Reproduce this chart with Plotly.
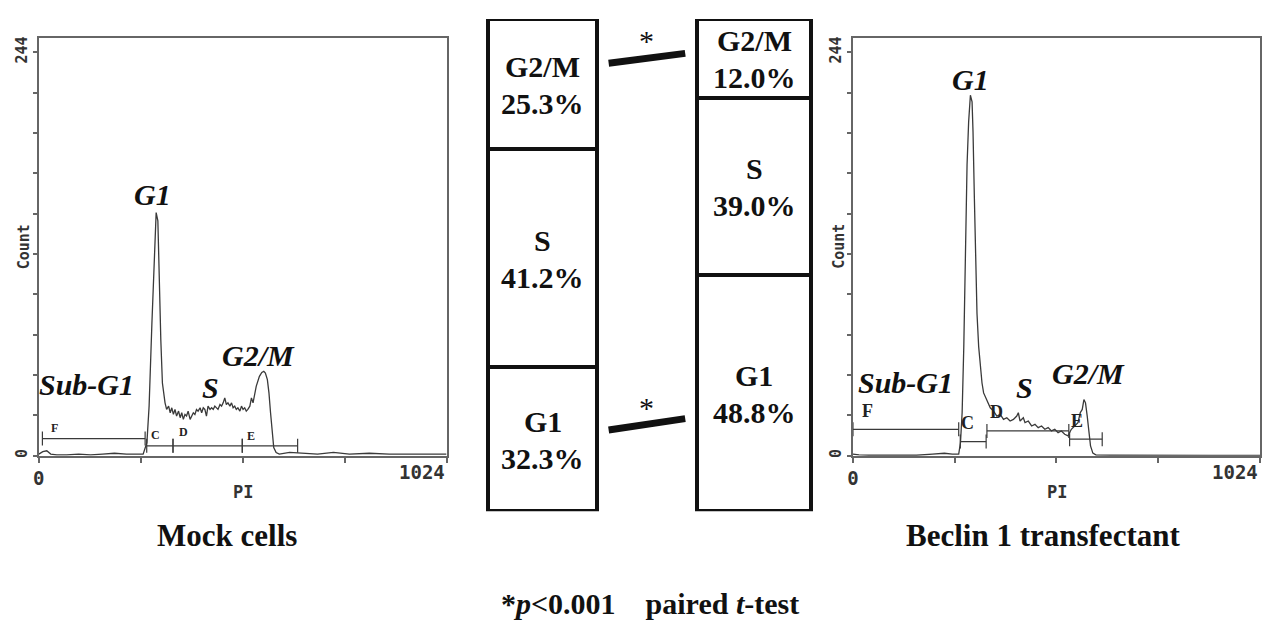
import plotly.graph_objects as go

W, H = 1262, 621

# ---------------- data ----------------
# Mock cells DNA histogram (PI channel vs count)
mock_pi = [0, 10, 20, 30, 45, 70, 100, 130, 160, 190, 220, 245, 262, 271.5, 277, 284, 290, 294.7, 299, 302, 306.4, 310.4, 315.4,
           317, 321, 326, 330, 334, 338, 342, 346, 351, 355, 359, 363, 367, 371, 375, 380, 384, 388, 392, 396, 400, 405,
           409, 413, 417, 421, 425, 430, 434, 438, 442, 446, 450, 455, 459, 463, 467, 471, 475, 480, 484, 488, 492, 496,
           500, 505, 509, 513, 517, 521, 525, 530, 534, 538,
           542, 546, 554, 560, 565, 569, 574, 578, 582, 586, 590, 596, 604, 630, 660, 700, 740, 780, 830, 880, 930, 980, 1024]
mock_count = [1, 2.5, 3, 1, 0.5, 0.5, 1, 0.5, 1, 1.5, 1, 1, 1, 8, 30, 80, 120, 147, 142, 110, 70, 44, 33,
              32, 28, 30, 26, 29, 25, 28, 24, 27, 23, 26, 22, 25, 24, 27, 22, 24, 26, 25, 28, 27, 29,
              26, 29, 28, 24, 30, 28, 29, 28, 30, 29, 28, 31, 30, 32, 35, 31, 32, 30, 32, 29, 30, 28,
              29, 27, 30, 28, 29, 27, 28, 30, 35, 32,
              38, 42, 48, 50.4, 51, 50, 46, 38, 26, 14, 5, 2, 1, 2, 1.5, 1, 2, 1, 1.5, 1, 1, 1, 1]

# Beclin 1 transfectant DNA histogram
beclin_pi = [0, 15, 40, 80, 120, 160, 200, 230, 250, 266, 270.5, 274.6, 278.8, 283, 287, 291, 295.4, 299.6, 302, 305.4,
             308.7, 312, 316.2, 320.4, 324.6, 328.7, 337, 345.4, 353.7, 362, 370.4, 378.7, 387, 395.3, 403.6, 412, 416,
             420.3, 428.6, 432.8, 441.1, 449.4, 457.8, 466, 474.4, 482.7, 491, 499.4, 507.7, 516, 524.4, 532.7, 541,
             549.3, 557.7, 566, 571.8, 576.8, 581, 585, 589.3, 593.5, 597.6, 603.5, 611.8, 650, 700, 800, 900, 1024]
beclin_count = [1, 0.5, 0.3, 0.3, 0.5, 0.3, 1, 1.5, 1, 1, 8, 26, 66, 126, 176, 202, 218, 214, 196, 156,
                116, 86, 66, 52, 44, 38, 33, 29, 27, 24, 25, 22, 23, 21, 22, 24, 26,
                21, 23, 20, 21, 18, 19, 17, 18, 16, 17, 15, 16, 14, 15, 13, 12,
                16, 18, 20, 26, 28, 34, 32, 24, 14, 6, 1.6, 0.4, 0.3, 0.2, 0.2, 0.2, 0.2]

# marker gates (start channel, end channel, drawn level)
gate_names = ["F", "C", "D", "E"]
mock_gate_start = [9, 271, 337, 511]
mock_gate_end = [267, 337, 511, 650]
mock_gate_level = [10.4, 6.0, 6.0, 6.0]
mock_gate_label_x = [40, 294, 363, 534]
mock_gate_label_y = [17, 12.4, 14.6, 12]
beclin_gate_start = [0, 270, 337, 545]
beclin_gate_end = [266, 335, 543, 627]
beclin_gate_level = [16, 8.6, 15, 10]
beclin_gate_label_x = [36, 289, 362, 563]
beclin_gate_label_y = [27, 20, 26.4, 21]

# phase summary boxes
groups = ["Mock cells", "Beclin 1 transfectant"]
phases = ["G1", "S", "G2/M"]
mock_pct = [32.3, 41.2, 25.3]
beclin_pct = [48.8, 39.0, 12.0]
# segment heights as drawn in the schematic boxes (% of box height)
mock_drawn = [29.3, 44.2, 26.5]
beclin_drawn = [47.9, 36.1, 16.0]

y_ticks = [0, 24.4, 48.8, 73.2, 97.6, 122, 146.4, 170.8, 195.2, 219.6, 244]
y_ticktext = ["0", "", "", "", "", "", "", "", "", "", "244"]
x_ticks = [0, 256, 512, 768, 1024]
x_ticktext = ["0", "", "", "", ""]

# ---------------- helpers ----------------
def px(x):
    return x / W

def py(y):
    return 1 - y / H

SERIF = "Liberation Serif"
MONO = "DejaVu Sans Mono"
INK = "#3a3a3a"
FRAME = "#666666"

fig = go.Figure()

# histograms
fig.add_trace(go.Scatter(x=mock_pi, y=mock_count, mode="lines", line=dict(color=INK, width=1.3),
                         xaxis="x", yaxis="y", showlegend=False, hoverinfo="skip"))
fig.add_trace(go.Scatter(x=beclin_pi, y=beclin_count, mode="lines", line=dict(color=INK, width=1.3),
                         xaxis="x3", yaxis="y3", showlegend=False, hoverinfo="skip"))

annotations = []


def note(text, x, y, font, **kw):
    d = dict(x=px(x), y=py(y), xref="paper", yref="paper", text=text, showarrow=False,
             xanchor="center", yanchor="middle", font=font)
    d.update(kw)
    annotations.append(d)


for starts, ends, levels, lx, ly, xa, ya, fs in [
        (mock_gate_start, mock_gate_end, mock_gate_level, mock_gate_label_x, mock_gate_label_y, "x", "y", 12),
        (beclin_gate_start, beclin_gate_end, beclin_gate_level, beclin_gate_label_x, beclin_gate_label_y, "x3", "y3", 18)]:
    for name, s, e, l, tx, ty in zip(gate_names, starts, ends, levels, lx, ly):
        fig.add_trace(go.Scatter(x=[s, e], y=[l, l], mode="lines+markers",
                                 line=dict(color=INK, width=1.2),
                                 marker=dict(symbol="line-ns", size=10, line=dict(color=INK, width=1.2)),
                                 xaxis=xa, yaxis=ya, showlegend=False, hoverinfo="skip"))
        annotations.append(dict(x=tx, y=ty, xref=xa, yref=ya, text=name, showarrow=False,
                                xanchor="center", yanchor="middle",
                                font=dict(family=SERIF, size=fs, color="#222", weight="bold")))

# stacked schematic boxes
for i, ph in enumerate(phases):
    fig.add_trace(go.Bar(x=groups, y=[mock_drawn[i], beclin_drawn[i]], width=[0.516, 0.538],
                         marker=dict(color="white", line=dict(color="#111", width=4)),
                         xaxis="x2", yaxis="y2", showlegend=False, hoverinfo="skip", name=ph))

box_font = dict(family=SERIF, size=30, color="#111", weight="bold")
for g, drawn, pct in [(0, mock_drawn, mock_pct), (1, beclin_drawn, beclin_pct)]:
    base = 0
    for i, ph in enumerate(phases):
        mid = base + drawn[i] / 2
        base += drawn[i]
        annotations.append(dict(x=groups[g], y=mid, xref="x2", yref="y2", text=ph, showarrow=False,
                                xanchor="center", yanchor="middle", yshift=18, font=box_font))
        annotations.append(dict(x=groups[g], y=mid, xref="x2", yref="y2", text=f"{pct[i]:.1f}%", showarrow=False,
                                xanchor="center", yanchor="middle", yshift=-19, font=box_font))

# phase labels on histograms
lab_font = dict(family=SERIF, size=30, color="#111", weight="bold", style="italic")
for text, x, y in [("G1", 147, 192), ("Sub-G1", 81, 383), ("S", 206, 386), ("G2/M", 254, 354),
                   ("G1", 970, 76), ("Sub-G1", 905, 381), ("S", 1024, 386), ("G2/M", 1089, 372)]:
    note(text, x, y + 2, lab_font)

# axis text
vert_font = dict(family=MONO, size=15, color="#333", weight="bold")
horiz_font = dict(family=MONO, size=19, color="#333", weight="bold")
pi_font = dict(family=MONO, size=17, color="#333", weight="bold")
for x0, xc in [(33, 238), (852, 1057)]:
    note("Count", x0 - 14, 246, vert_font, textangle=-90)
    note("PI", xc, 493, pi_font)
note("1024", 443, 473, horiz_font, xanchor="right")
note("1024", 1261, 473, horiz_font, xanchor="right")

# captions
cap_font = dict(family=SERIF, size=31, color="#111", weight="bold")
note("Mock cells", 222, 537, cap_font)
note("Beclin 1 transfectant", 1043, 537, cap_font)
note("*<i>p</i>&lt;0.001&nbsp;&nbsp;&nbsp;&nbsp;paired <i>t</i>-test", 648, 605,
     dict(family=SERIF, size=30, color="#111", weight="bold"))
# significance asterisks
for y in [39, 408]:
    note("*", 644, y, dict(family=SERIF, size=30, color="#111"))

shapes = [
    dict(type="line", xref="paper", yref="paper", x0=px(606), y0=py(61.7), x1=px(683), y1=py(51.7),
         line=dict(color="#111", width=7)),
    dict(type="line", xref="paper", yref="paper", x0=px(606), y0=py(430.7), x1=px(683), y1=py(419.3),
         line=dict(color="#111", width=7)),
]

hist_x = dict(range=[0, 1024], tickvals=x_ticks, ticktext=x_ticktext, ticks="outside", ticklen=5,
              tickcolor=FRAME, tickwidth=1.5, showline=True, linecolor=FRAME, linewidth=1.5, mirror=True,
              showgrid=False, zeroline=False, tickfont=horiz_font)
hist_y = dict(range=[0, 252.3], tickvals=y_ticks, ticktext=y_ticktext, ticks="outside", ticklen=4,
              tickcolor=FRAME, tickwidth=1.5, showline=True, linecolor=FRAME, linewidth=1.5, mirror=True,
              showgrid=False, zeroline=False, tickangle=-90, tickfont=vert_font)
ydom = [py(456.7), py(36.7)]

fig.update_layout(
    width=W, height=H, autosize=False,
    margin=dict(l=0, r=0, t=0, b=0),
    paper_bgcolor="white", plot_bgcolor="white",
    barmode="stack", bargap=0,
    xaxis=dict(domain=[px(33), px(443)], anchor="y", **hist_x),
    yaxis=dict(domain=ydom, anchor="x", **hist_y),
    xaxis3=dict(domain=[px(851.7), px(1261)], anchor="y3", **hist_x),
    yaxis3=dict(domain=ydom, anchor="x3", **hist_y),
    xaxis2=dict(domain=[px(470), px(830)], anchor="y2", type="category", categoryarray=groups,
                range=[-0.3285, 1.3645], visible=False),
    yaxis2=dict(domain=[py(512.5), py(17)], anchor="x2", range=[0, 100], visible=False),
    annotations=annotations,
    shapes=shapes,
)

fig.write_html("out.html", config={"displayModeBar": False},
               post_script="document.body.style.margin='0';document.body.style.overflow='hidden';")
